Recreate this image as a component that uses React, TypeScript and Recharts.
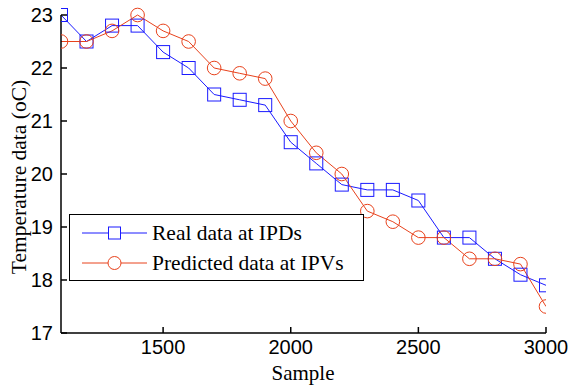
import { Legend, Line, LineChart, XAxis, YAxis } from "recharts";

const samples = [
  1100, 1200, 1300, 1400, 1500, 1600, 1700, 1800, 1900, 2000,
  2100, 2200, 2300, 2400, 2500, 2600, 2700, 2800, 2900, 3000,
];
const realValues = [
  23.0, 22.5, 22.8, 22.8, 22.3, 22.0, 21.5, 21.4, 21.3, 20.6,
  20.2, 19.8, 19.7, 19.7, 19.5, 18.8, 18.8, 18.4, 18.1, 17.9,
];
const predictedValues = [
  22.5, 22.5, 22.7, 23.0, 22.7, 22.5, 22.0, 21.9, 21.8, 21.0,
  20.4, 20.0, 19.3, 19.1, 18.8, 18.8, 18.4, 18.4, 18.3, 17.5,
];
const xTicks = [1500, 2000, 2500, 3000];
const yTicks = [17, 18, 19, 20, 21, 22, 23];
const seriesNames = ["Real data at IPDs", "Predicted data at IPVs"];

const BLUE = "#1a1aff";
const RED = "#e8421c";
const SANS = '"Liberation Sans", Arial, sans-serif';
const SERIF = '"Liberation Serif", "Times New Roman", serif';

const data = samples.map((s, i) => ({
  sample: s,
  real: realValues[i],
  predicted: predictedValues[i],
}));

function SquareDot(props: any) {
  const { cx, cy, index } = props;
  if (cx == null || cy == null) return null;
  return (
    <rect
      key={`sq-${index}`}
      x={cx - 6.5}
      y={cy - 6.5}
      width={13}
      height={13}
      fill="none"
      stroke={BLUE}
      strokeWidth={1}
    />
  );
}

function CircleDot(props: any) {
  const { cx, cy, index } = props;
  if (cx == null || cy == null) return null;
  return (
    <circle key={`ci-${index}`} cx={cx} cy={cy} r={6.8} fill="none" stroke={RED} strokeWidth={1} />
  );
}

function LegendBox() {
  const rows = [
    { name: seriesNames[0], colour: BLUE, square: true },
    { name: seriesNames[1], colour: RED, square: false },
  ];
  return (
    <div
      style={{
        width: 295,
        height: 67,
        border: "1.5px solid #000",
        background: "#fff",
        boxSizing: "border-box",
        paddingTop: 3,
      }}
    >
      {rows.map((r) => (
        <div key={r.name} style={{ display: "flex", alignItems: "center", height: 30 }}>
          <svg width={82} height={20}>
            <line x1={12} x2={77} y1={10} y2={10} stroke={r.colour} strokeWidth={1} />
            {r.square ? (
              <rect x={38.5} y={4} width={12} height={12} fill="#fff" stroke={r.colour} />
            ) : (
              <circle cx={44.5} cy={10} r={6.5} fill="#fff" stroke={r.colour} />
            )}
          </svg>
          <span style={{ fontFamily: SERIF, fontSize: 21.5, color: "#000", lineHeight: "30px" }}>
            {r.name}
          </span>
        </div>
      ))}
    </div>
  );
}

function YTitle() {
  return (
    <text
      x={26}
      y={177}
      transform="rotate(-90 26 177)"
      textAnchor="middle"
      fontFamily={SERIF}
      fontSize={21.5}
      fill="#000"
    >
      Temperature data (oC)
    </text>
  );
}

function XTitle() {
  return (
    <text x={303} y={380} textAnchor="middle" fontFamily={SERIF} fontSize={21} fill="#000">
      Sample
    </text>
  );
}

export default function App() {
  const tickStyle = { fill: "#000", fontSize: 20, fontFamily: SANS };
  return (
    <div style={{ position: "absolute", left: 0, top: 0, background: "#fff" }}>
      <LineChart
        width={569}
        height={390}
        data={data}
        margin={{ top: 15, right: 23, left: 0, bottom: 0 }}
      >
        <XAxis
          dataKey="sample"
          type="number"
          domain={[1100, 3000]}
          ticks={xTicks}
          allowDataOverflow
          height={57}
          stroke="#000"
          strokeWidth={1.5}
          tickSize={-6}
          tickMargin={13}
          tick={tickStyle}
          label={<XTitle />}
        />
        <XAxis
          xAxisId="top"
          orientation="top"
          dataKey="sample"
          type="number"
          domain={[1100, 3000]}
          ticks={xTicks}
          height={0}
          stroke="#000"
          strokeWidth={1.5}
          tickSize={-6}
          tickFormatter={() => ""}
        />
        <YAxis
          domain={[17, 23]}
          ticks={yTicks}
          width={61}
          stroke="#000"
          strokeWidth={1.5}
          tickSize={-6}
          tickMargin={14}
          tick={tickStyle}
          label={<YTitle />}
        />
        <YAxis
          yAxisId="right"
          orientation="right"
          domain={[17, 23]}
          ticks={yTicks}
          width={0}
          stroke="#000"
          strokeWidth={1.5}
          tickSize={-6}
          tickFormatter={() => ""}
        />
        <Legend
          layout="horizontal"
          verticalAlign="middle"
          align="center"
          content={<LegendBox />}
          wrapperStyle={{ position: "absolute", left: 69, top: 214, width: 295 }}
        />
        <Line
          dataKey="real"
          name={seriesNames[0]}
          stroke={BLUE}
          strokeWidth={1}
          dot={SquareDot}
          activeDot={false}
          isAnimationActive={false}
        />
        <Line
          dataKey="predicted"
          name={seriesNames[1]}
          stroke={RED}
          strokeWidth={1}
          dot={CircleDot}
          activeDot={false}
          isAnimationActive={false}
        />
      </LineChart>
    </div>
  );
}
